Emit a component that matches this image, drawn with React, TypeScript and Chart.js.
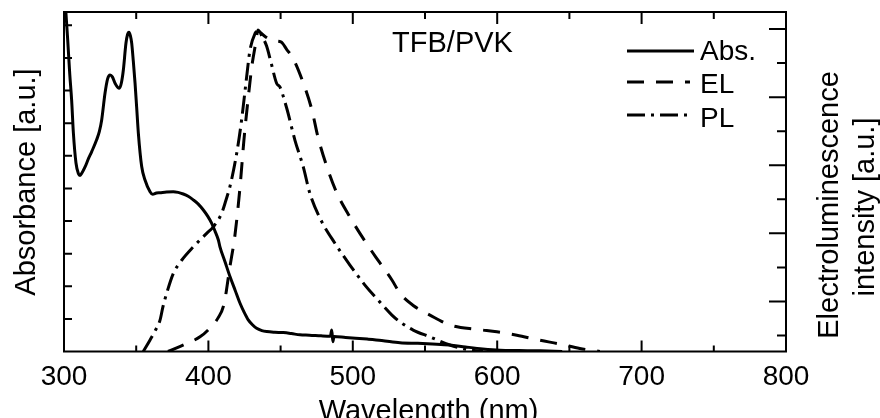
import React, { useEffect, useRef } from "react";
import { Chart, registerables } from "chart.js";

Chart.register(...registerables);

const FONT = "'Liberation Sans', Arial, Helvetica, sans-serif";

// Absorbance (left axis, a.u.)
const absWavelength = [
  301.0, 302.5, 304.0, 305.3, 306.5, 308.3, 310.0, 311.1, 312.5, 314.5, 317.0, 319.2, 322.6, 324.5,
  326.1, 328.4, 330.2, 331.9, 333.5, 335.3, 338.3, 339.8, 341.1, 342.9, 344.0, 345.0, 346.0, 346.9,
  348.0, 349.2, 350.3, 351.5, 353.8, 356.1, 359.6, 361.4, 364.0, 366.5, 371.0, 375.7, 379.0, 382.6,
  386.0, 389.5, 393.0, 396.5, 399.5, 402.3, 404.5, 406.9, 408.0, 411.5, 415.0, 418.5, 421.9, 424.8,
  427.6, 430.5, 433.4, 437.0, 440.4, 446.0, 451.9, 457.5, 463.4, 470.0, 478.0, 484.5, 485.4, 486.2,
  487.0, 495.0, 510.0, 520.0, 532.7, 545.0, 555.0, 567.0, 578.0, 590.0, 602.0, 615.0, 630.0, 645.0,
];
const absValue = [
  10.6, 9.6, 8.5, 7.7, 6.7, 5.78, 5.45, 5.4, 5.48, 5.65, 5.92, 6.13, 6.49, 6.75,
  7.1, 7.92, 8.36, 8.48, 8.42, 8.23, 8.07, 8.25, 8.63, 9.45, 9.72, 9.79, 9.68, 9.45,
  8.9, 8.23, 7.5, 6.69, 5.67, 5.26, 4.9, 4.82, 4.86, 4.87, 4.89, 4.9, 4.88, 4.83,
  4.76, 4.65, 4.52, 4.34, 4.15, 3.93, 3.7, 3.42, 3.21, 2.75, 2.29, 1.88, 1.48, 1.2,
  0.97, 0.82, 0.71, 0.64, 0.61, 0.59, 0.58, 0.55, 0.51, 0.5, 0.48, 0.47, 0.66, 0.3,
  0.46, 0.43, 0.38, 0.34, 0.27, 0.25, 0.23, 0.2, 0.14, 0.08, 0.04, 0.03, 0.02, 0.0,
];

// Electroluminescence (right axis, a.u.)
const elWavelength = [
  372.0, 385.2, 394.2, 401.1, 406.6, 410.8, 414.9, 418.4, 421.9, 424.6, 427.4, 430.2, 432.9, 434.3,
  435.7, 439.9, 445.4, 450.2, 454.4, 458.5, 465.5, 471.7, 475.8, 482.1, 489.0, 498.0, 508.4, 518.8,
  527.1, 532.7, 541.6, 553.4, 567.2, 586.0, 599.8, 613.6, 629.6, 643.4, 657.2, 671.1,
];
const elValue = [
  -0.47, -0.23, -0.04, 0.22, 0.51, 0.92, 2.02, 2.95, 4.36, 5.74, 6.91, 7.94, 8.62, 8.97,
  8.91, 8.76, 8.65, 8.62, 8.39, 8.15, 7.44, 6.62, 5.84, 4.95, 4.18, 3.48, 2.77, 2.13,
  1.63, 1.24, 0.89, 0.6, 0.31, 0.18, 0.11, 0.01, -0.14, -0.25, -0.38, -0.47,
];

// Photoluminescence (right axis, a.u.)
const plWavelength = [
  354.9, 359.5, 363.0, 366.5, 368.5, 371.1, 375.7, 381.5, 389.5, 398.8, 403.4, 409.2, 412.2, 414.9,
  419.6, 423.0, 426.5, 428.8, 432.3, 434.5, 437.1, 440.3, 443.3, 447.3, 449.5, 454.2, 459.9, 465.7,
  470.3, 477.2, 487.6, 498.0, 508.4, 518.8, 527.1, 532.7, 541.8, 553.4, 567.2, 578.8, 590.1,
];
const plValue = [
  -0.47, -0.14, 0.13, 0.45, 0.84, 1.24, 1.82, 2.21, 2.6, 3.0, 3.19, 3.59, 3.98, 4.37,
  5.35, 6.33, 7.6, 8.38, 8.87, 8.97, 8.79, 8.5, 8.03, 7.4, 7.3, 6.68, 5.74, 4.95,
  4.17, 3.45, 2.71, 2.07, 1.48, 0.98, 0.6, 0.4, 0.16, -0.04, -0.28, -0.41, -0.47,
];

const seriesLabels = ["Abs.", "EL", "PL"];
const seriesDash = [[], [17, 12], [18, 6, 3, 6]];
const xMajorTicks = [300, 400, 500, 600, 700, 800];
const xMinorTicks = [350, 450, 550, 650, 750];
const leftTicks = [1, 2, 3, 4, 5, 6, 7, 8, 9, 10];
const rightMajorTicks = [1, 3, 5, 7, 9];
const rightMinorTicks = [0, 2, 4, 6, 8];
const sampleName = "TFB/PVK";
const xTitle = "Wavelength (nm)";
const leftTitle = "Absorbance [a.u.]";
const rightTitle = ["Electroluminescence", "intensity [a.u.]"];

const decorPlugin = {
  id: "decor",
  afterDraw(chart: any) {
    const { ctx, chartArea: a, scales } = chart;
    const x = scales.x;
    const yl = scales.yAbs;
    const yr = scales.yEL;
    ctx.save();
    ctx.strokeStyle = "#000";
    ctx.fillStyle = "#000";
    ctx.setLineDash([]);
    ctx.lineWidth = 2;
    ctx.strokeRect(a.left, a.top, a.right - a.left, a.bottom - a.top);
    ctx.beginPath();
    xMajorTicks.forEach((v) => {
      const px = x.getPixelForValue(v);
      ctx.moveTo(px, a.bottom);
      ctx.lineTo(px, a.bottom - 11);
      ctx.moveTo(px, a.top);
      ctx.lineTo(px, a.top + 12);
    });
    xMinorTicks.forEach((v) => {
      const px = x.getPixelForValue(v);
      ctx.moveTo(px, a.bottom);
      ctx.lineTo(px, a.bottom - 6);
      ctx.moveTo(px, a.top);
      ctx.lineTo(px, a.top + 7);
    });
    leftTicks.forEach((v) => {
      const py = yl.getPixelForValue(v);
      ctx.moveTo(a.left, py);
      ctx.lineTo(a.left + 8, py);
    });
    rightMajorTicks.forEach((v) => {
      const py = yr.getPixelForValue(v);
      ctx.moveTo(a.right, py);
      ctx.lineTo(a.right - 17, py);
    });
    rightMinorTicks.forEach((v) => {
      const py = yr.getPixelForValue(v);
      ctx.moveTo(a.right, py);
      ctx.lineTo(a.right - 9, py);
    });
    ctx.stroke();

    // sample name
    ctx.font = `29px ${FONT}`;
    ctx.textAlign = "center";
    ctx.textBaseline = "alphabetic";
    ctx.fillText(sampleName, 452.5, 51.7);

    // legend
    const ds = chart.data.datasets;
    ctx.font = `28px ${FONT}`;
    ctx.textAlign = "left";
    const lineYs = [51, 82, 115];
    const lineEnds = [694, 690, 690];
    const textYs = [60, 93, 127];
    ds.forEach((d: any, i: number) => {
      ctx.save();
      ctx.lineWidth = d.borderWidth;
      ctx.setLineDash(d.borderDash || []);
      ctx.beginPath();
      ctx.moveTo(a.right - 159, lineYs[i]);
      ctx.lineTo(a.right - 786 + lineEnds[i], lineYs[i]);
      ctx.stroke();
      ctx.restore();
      ctx.fillText(d.label, a.right - 86, textYs[i]);
    });

    // axis titles
    ctx.font = `29px ${FONT}`;
    ctx.textAlign = "center";
    ctx.fillText(xTitle, 428.5, 420);

    ctx.save();
    ctx.translate(35, 182);
    ctx.rotate(-Math.PI / 2);
    ctx.fillText(leftTitle, 0, 0);
    ctx.restore();

    ctx.save();
    ctx.translate(838, 205);
    ctx.rotate(-Math.PI / 2);
    ctx.fillText(rightTitle[0], 0, 0);
    ctx.restore();

    ctx.save();
    ctx.translate(874, 207);
    ctx.rotate(-Math.PI / 2);
    ctx.fillText(rightTitle[1], 0, 0);
    ctx.restore();

    ctx.restore();
  },
};

export default function App() {
  const ref = useRef<HTMLCanvasElement | null>(null);
  useEffect(() => {
    if (!ref.current) return;
    Chart.defaults.font.family = FONT;
    const mk = (xs: number[], ys: number[]) => xs.map((xv, i) => ({ x: xv, y: ys[i] }));
    const common = {
      borderColor: "#000",
      backgroundColor: "#000",
      borderWidth: 3,
      pointRadius: 0,
      fill: false,
      cubicInterpolationMode: "monotone" as const,
      xAxisID: "x",
    };
    const chart = new Chart(ref.current, {
      type: "line",
      data: {
        datasets: [
          { ...common, label: seriesLabels[0], data: mk(absWavelength, absValue), yAxisID: "yAbs", borderDash: seriesDash[0] },
          { ...common, label: seriesLabels[1], data: mk(elWavelength, elValue), yAxisID: "yEL", borderDash: seriesDash[1] },
          { ...common, label: seriesLabels[2], data: mk(plWavelength, plValue), yAxisID: "yEL", borderDash: seriesDash[2] },
        ],
      },
      options: {
        responsive: false,
        animation: false,
        layout: { padding: { top: 12, left: 0, right: 0, bottom: 0 } },
        plugins: { legend: { display: false }, tooltip: { enabled: false } },
        scales: {
          x: {
            type: "linear",
            position: "bottom",
            min: 300,
            max: 800,
            ticks: {
              stepSize: 100,
              color: "#000",
              padding: 9,
              maxRotation: 0,
              autoSkip: false,
              font: { size: 28, family: FONT },
            },
            grid: { display: false, drawTicks: false },
            border: { display: false },
            afterFit: (s: any) => {
              s.height = 66.5;
            },
          },
          yAbs: {
            type: "linear",
            position: "left",
            min: 0,
            max: 10.41,
            ticks: { display: false },
            grid: { display: false, drawTicks: false },
            border: { display: false },
            afterFit: (s: any) => {
              s.width = 64;
            },
          },
          yEL: {
            type: "linear",
            position: "right",
            min: -0.47,
            max: 9.5,
            ticks: { display: false },
            grid: { display: false, drawTicks: false },
            border: { display: false },
            afterFit: (s: any) => {
              s.width = 94;
            },
          },
        },
      },
      plugins: [decorPlugin],
    });
    return () => chart.destroy();
  }, []);
  return (
    <div style={{ position: "absolute", left: 0, top: 0, width: 880, height: 418, background: "#fff" }}>
      <canvas ref={ref} width={880} height={418} />
    </div>
  );
}
